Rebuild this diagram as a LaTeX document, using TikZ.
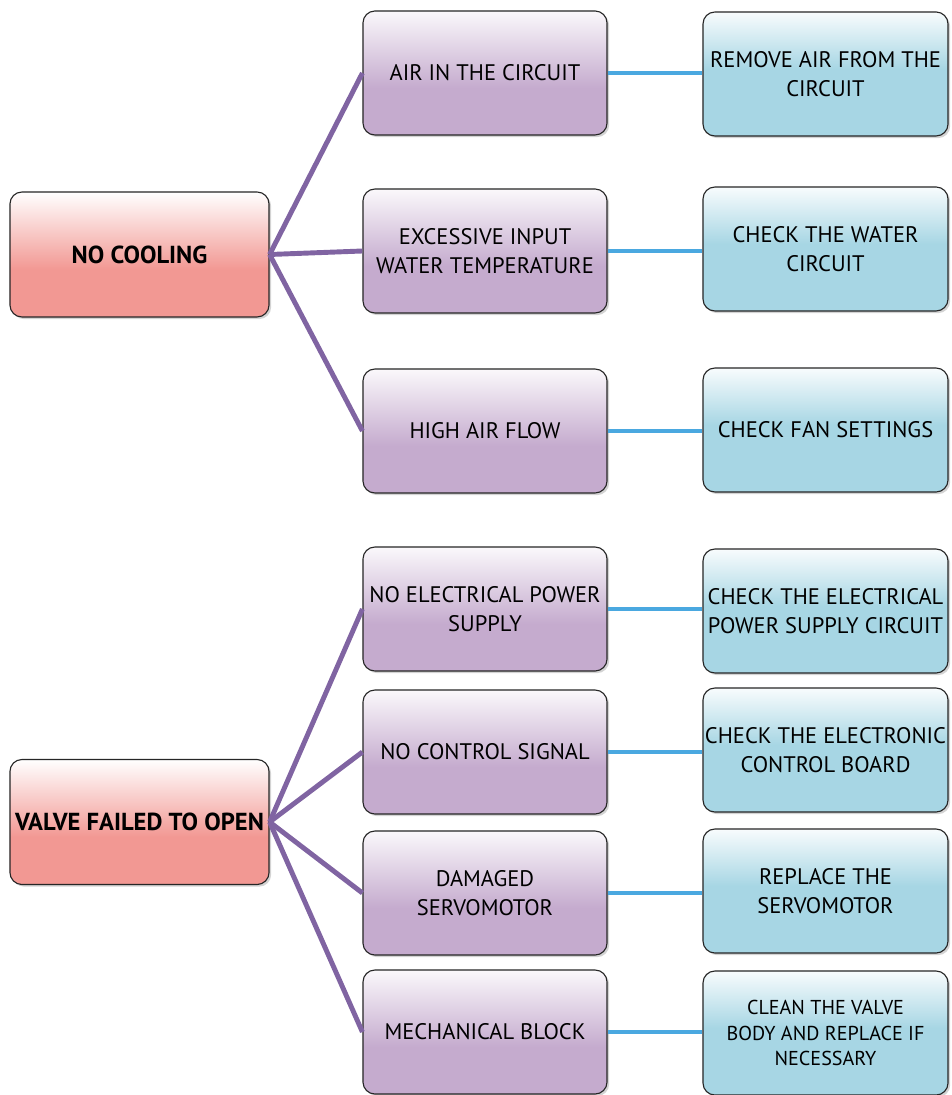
\documentclass[tikz,border=0pt]{standalone}
\usepackage{fontspec}
\setmainfont{PT Sans}
\usetikzlibrary{shadows}

\definecolor{causeRed}{RGB}{242,152,147}
\definecolor{reasonPurple}{RGB}{197,171,206}
\definecolor{fixBlue}{RGB}{167,214,228}
\definecolor{linkPurple}{RGB}{128,100,162}
\definecolor{linkBlue}{RGB}{74,168,224}

\pgfdeclareverticalshading{redshade}{100bp}{color(0bp)=(causeRed); color(44bp)=(causeRed); color(75bp)=(white); color(100bp)=(white)}
\pgfdeclareverticalshading{purpleshade}{100bp}{color(0bp)=(reasonPurple); color(44bp)=(reasonPurple); color(75bp)=(white!92!reasonPurple); color(100bp)=(white)}
\pgfdeclareverticalshading{blueshade}{100bp}{color(0bp)=(fixBlue); color(52bp)=(fixBlue); color(75bp)=(white!92!fixBlue); color(100bp)=(white)}

\begin{document}
\begin{tikzpicture}[x=0.025cm,y=-0.025cm]
            \useasboundingbox (0,0) rectangle (951,1095);
            \tikzset{
              box/.style={draw=black!85, line width=0.8pt, rounded corners=0.3cm,
                align=center, inner sep=0pt, shade,
                drop shadow={opacity=0.35, shadow xshift=1.5pt, shadow yshift=-1.5pt},
                font=\fontsize{16}{20.6}\selectfont},
              problem/.style={box, shading=redshade, minimum width=6.475cm,
                minimum height=3.125cm, font=\fontsize{17.5}{20.6}\selectfont\bfseries},
              cause/.style={box, shading=purpleshade, minimum width=6.1cm, minimum height=3.1cm},
              remedy/.style={box, shading=blueshade, minimum width=6.125cm, minimum height=3.1cm},
              EdgeCause/.style={linkPurple, line width=3.5pt},
              EdgeRemedy/.style={linkBlue, line width=3.5pt}
            }

            \node[problem] (nocool) at (139.5,254.5) {NO COOLING};
            \node[problem] (valve) at (139.5,822) {VALVE FAILED TO OPEN};

            \node[cause] (air) at (485,73) {AIR IN THE CIRCUIT};
            \node[cause] (watertemp) at (485,251) {EXCESSIVE INPUT\\WATER TEMPERATURE};
            \node[cause] (airflow) at (485,431) {HIGH AIR FLOW};
            \node[cause] (power) at (485,609) {NO ELECTRICAL POWER\\SUPPLY};
            \node[cause] (signal) at (485,752) {NO CONTROL SIGNAL};
            \node[cause] (servo) at (485,893) {DAMAGED\\SERVOMOTOR};
            \node[cause] (block) at (485,1032) {MECHANICAL BLOCK};

            \node[remedy] (airfix) at (825.5,74) {REMOVE AIR FROM THE\\CIRCUIT};
            \node[remedy] (waterfix) at (825.5,249) {CHECK THE WATER\\CIRCUIT};
            \node[remedy] (fanfix) at (825.5,430) {CHECK FAN SETTINGS};
            \node[remedy] (powerfix) at (825.5,611) {CHECK THE ELECTRICAL\\POWER SUPPLY CIRCUIT};
            \node[remedy] (boardfix) at (825.5,750) {CHECK THE ELECTRONIC\\CONTROL BOARD};
            \node[remedy] (servofix) at (825.5,891) {REPLACE THE\\SERVOMOTOR};
            \node[remedy, font=\fontsize{14.3}{18.1}\selectfont] (blockfix) at (825.5,1033)
              {CLEAN THE VALVE\\BODY AND REPLACE IF\\NECESSARY};

            % causes
            \draw[EdgeCause] (nocool.east) -- (air.west);
            \draw[EdgeCause] (nocool.east) -- (watertemp.west);
            \draw[EdgeCause] (nocool.east) -- (airflow.west);
            \draw[EdgeCause] (valve.east) -- (power.west);
            \draw[EdgeCause] (valve.east) -- (signal.west);
            \draw[EdgeCause] (valve.east) -- (servo.west);
            \draw[EdgeCause] (valve.east) -- (block.west);

            % remedies
            \draw[EdgeRemedy] (air.east) -- (air.east -| airfix.west);
            \draw[EdgeRemedy] (watertemp.east) -- (watertemp.east -| waterfix.west);
            \draw[EdgeRemedy] (airflow.east) -- (airflow.east -| fanfix.west);
            \draw[EdgeRemedy] (power.east) -- (power.east -| powerfix.west);
            \draw[EdgeRemedy] (signal.east) -- (signal.east -| boardfix.west);
            \draw[EdgeRemedy] (servo.east) -- (servo.east -| servofix.west);
            \draw[EdgeRemedy] (block.east) -- (block.east -| blockfix.west);
\end{tikzpicture}
\end{document}
